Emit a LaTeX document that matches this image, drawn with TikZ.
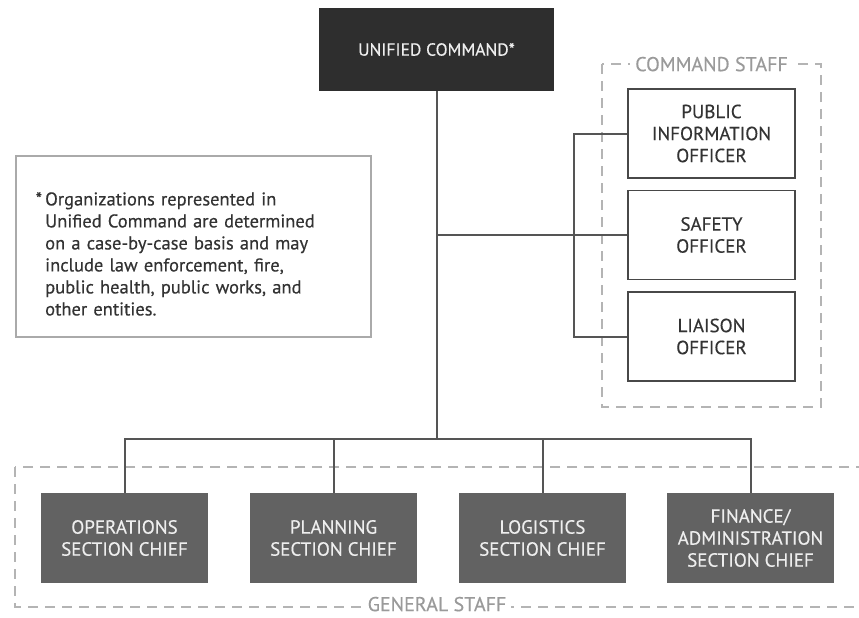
\documentclass[tikz,border=0pt]{standalone}
\usepackage{fontspec}
\setmainfont{PT Sans}[FakeBold=0.35]
\definecolor{ucfill}{HTML}{2E2E2E}
\definecolor{secfill}{HTML}{626262}
\definecolor{ltext}{HTML}{EEEEEE}
\definecolor{dtext}{HTML}{333333}
\definecolor{linkc}{HTML}{555555}
\definecolor{boxline}{HTML}{484848}
\definecolor{dashc}{HTML}{B4B4B4}
\definecolor{graytext}{HTML}{9A9A9A}
\definecolor{notec}{HTML}{AAAAAA}
\begin{document}
\begin{tikzpicture}[x=1pt,y=-1pt,
  ucbox/.style={fill=ucfill, text=ltext, minimum width=235pt, minimum height=83pt, inner sep=0pt, font=\fontsize{17.5}{20}\selectfont},
  cmdbox/.style={draw=boxline, line width=1.8pt, fill=white, minimum width=167pt, minimum height=89pt, inner sep=0pt, align=center, text=dtext, font=\fontsize{19}{22}\selectfont},
  secbox/.style={fill=secfill, text=ltext, minimum width=167pt, minimum height=90pt, inner sep=0pt, align=center, font=\fontsize{19}{22}\selectfont},
  link/.style={draw=linkc, line width=2pt},
  staffbox/.style={draw=dashc, line width=1.5pt, dash pattern=on 10pt off 7pt},
  stafflabel/.style={fill=white, text=graytext, inner xsep=5pt, inner ysep=0pt, text depth=0pt, font=\fontsize{20}{24}\selectfont},
  notebox/.style={draw=notec, line width=1.5pt, minimum width=355pt, minimum height=181pt, inner sep=0pt},
  notetext/.style={text=dtext, text width=330pt, align=left, inner sep=0pt, font=\fontsize{18.5}{22}\selectfont}
]
\useasboundingbox (0,0) rectangle (859,618);
\fill[white] (0,0) rectangle (859,618);

% dashed staff groups
\draw[staffbox] (602,64) rectangle (821,407);
\node[stafflabel] (cslabel) at (711.5,64) {COMMAND STAFF};
\draw[staffbox] (15,467) rectangle (870,607);
\node[stafflabel] (gslabel) at (437,604) {GENERAL STAFF};

% note
\node[notebox] (note) at (193.5,246.5) {};
\node[notetext, anchor=north west] (notetxt) at (45,192) {\llap{*\,}Organizations represented in\\Unified Command are determined\\on a case-by-case basis and may\\include law enforcement, fire,\\public health, public works, and\\other entities.};

% nodes
\node[ucbox] (uc) at (436.5,49.5) {UNIFIED COMMAND*};
\node[cmdbox] (pio) at (711.5,133.5) {PUBLIC\\INFORMATION\\OFFICER};
\node[cmdbox] (safety) at (711.5,235) {SAFETY\\OFFICER};
\node[cmdbox] (liaison) at (711.5,336.5) {LIAISON\\OFFICER};
\node[secbox] (ops) at (124.5,538) {OPERATIONS\\SECTION CHIEF};
\node[secbox] (plan) at (333.5,538) {PLANNING\\SECTION CHIEF};
\node[secbox] (log) at (542.5,538) {LOGISTICS\\SECTION CHIEF};
\node[secbox] (fin) at (750.5,538) {FINANCE/\\ADMINISTRATION\\SECTION CHIEF};

% connectors
\coordinate (bus) at (436.5,439);
\coordinate (brk) at (574,235);
\draw[link] (uc.south) -- (bus);
\draw[link] (uc.south |- safety.west) -- (safety.west);
\draw[link] (pio.west) -| (brk) |- (liaison.west);
\draw[link] (ops.north) |- (bus) -| (fin.north);
\draw[link] (plan.north) -- (plan.north |- bus);
\draw[link] (log.north) -- (log.north |- bus);
\end{tikzpicture}
\end{document}
